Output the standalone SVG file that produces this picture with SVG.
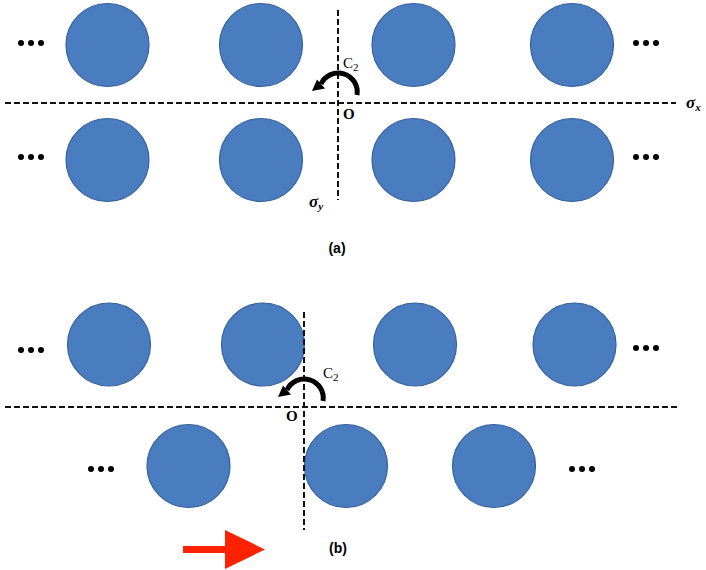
<svg xmlns="http://www.w3.org/2000/svg" width="706" height="570" viewBox="0 0 706 570">
<style>
.atom{fill:#4a7dc0;stroke:#36609a;stroke-width:1.2}
.dash{stroke:#111;stroke-width:2;stroke-dasharray:6 3;fill:none}
.dot{fill:#000}
.rot{fill:none;stroke:#000;stroke-width:5}
.sym{font-family:"Liberation Serif","DejaVu Serif",serif;font-size:15px;fill:#000}
.sig{font-family:"Liberation Serif","DejaVu Serif",serif;font-size:17px;font-style:italic;font-weight:bold;fill:#000}
.lab{font-family:"Liberation Sans","DejaVu Sans",sans-serif;font-size:14px;font-weight:bold;fill:#000}
</style>
<rect width="706" height="570" fill="#fff"/>
<!-- (a) -->
<g id="a-atoms">
<circle class="atom" cx="107.5" cy="45" r="41.5"/>
<circle class="atom" cx="261" cy="45" r="41.5"/>
<circle class="atom" cx="413.5" cy="45" r="41.5"/>
<circle class="atom" cx="572" cy="45" r="41.5"/>
<circle class="atom" cx="107.5" cy="160" r="41.5"/>
<circle class="atom" cx="261" cy="160" r="41.5"/>
<circle class="atom" cx="413.5" cy="160" r="41.5"/>
<circle class="atom" cx="572" cy="160" r="41.5"/>
</g>
<g id="a-dots">
<circle class="dot" cx="21" cy="43" r="3"/><circle class="dot" cx="31" cy="43" r="3"/><circle class="dot" cx="41" cy="43" r="3"/>
<circle class="dot" cx="636" cy="43" r="3"/><circle class="dot" cx="646" cy="43" r="3"/><circle class="dot" cx="656" cy="43" r="3"/>
<circle class="dot" cx="21" cy="157" r="3"/><circle class="dot" cx="31" cy="157" r="3"/><circle class="dot" cx="41" cy="157" r="3"/>
<circle class="dot" cx="636" cy="157" r="3"/><circle class="dot" cx="646" cy="157" r="3"/><circle class="dot" cx="656" cy="157" r="3"/>
</g>
<g id="a-axes">
<line class="dash" x1="5" y1="103" x2="676" y2="103"/>
<line class="dash" x1="338" y1="10" x2="338" y2="200"/>
</g>
<g id="a-c2">
<path class="rot" d="M357 95 A19 19 0 0 0 321 84"/>
<polygon points="325,88.5 317,79.5 312,91" fill="#000"/>
<text class="sym" x="343" y="68">C<tspan font-size="11" dy="3">2</tspan></text>
<text class="sym" x="343" y="119" font-size="12" font-weight="bold">O</text>
<text class="sig" x="686" y="108">σ<tspan font-size="11" dy="3">x</tspan></text>
<text class="sig" x="309" y="207">σ<tspan font-size="11" dy="3">y</tspan></text>
</g>
<text class="lab" x="337" y="253" text-anchor="middle">(a)</text>
<!-- (b) -->
<g id="b-atoms">
<circle class="atom" cx="109" cy="344.5" r="41.5"/>
<circle class="atom" cx="263" cy="344.5" r="41.5"/>
<circle class="atom" cx="415" cy="344.5" r="41.5"/>
<circle class="atom" cx="574.5" cy="344.5" r="41.5"/>
<circle class="atom" cx="188.5" cy="466" r="41.5"/>
<circle class="atom" cx="346" cy="466" r="41.5"/>
<circle class="atom" cx="494" cy="466" r="41.5"/>
</g>
<g id="b-dots">
<circle class="dot" cx="21" cy="350" r="3"/><circle class="dot" cx="31" cy="350" r="3"/><circle class="dot" cx="41" cy="350" r="3"/>
<circle class="dot" cx="636" cy="348" r="3"/><circle class="dot" cx="646" cy="348" r="3"/><circle class="dot" cx="656" cy="348" r="3"/>
<circle class="dot" cx="91" cy="469" r="3"/><circle class="dot" cx="101" cy="469" r="3"/><circle class="dot" cx="111" cy="469" r="3"/>
<circle class="dot" cx="572" cy="469" r="3"/><circle class="dot" cx="582" cy="469" r="3"/><circle class="dot" cx="592" cy="469" r="3"/>
</g>
<g id="b-axes">
<line class="dash" x1="5" y1="407" x2="678" y2="407"/>
<line class="dash" x1="304" y1="312" x2="304" y2="530"/>
</g>
<g id="b-c2">
<path class="rot" d="M323 401 A19 19 0 0 0 287 390"/>
<polygon points="291,394.5 283,385.5 278,397" fill="#000"/>
<text class="sym" x="323" y="378">C<tspan font-size="11" dy="3">2</tspan></text>
<text class="sym" x="286" y="421" font-size="12" font-weight="bold">O</text>
</g>
<text class="lab" x="338" y="553" text-anchor="middle">(b)</text>
<g id="arrow">
<rect x="183" y="546" width="43" height="7" fill="#ff2200"/>
<polygon points="225,530 265,549.5 225,569" fill="#ff2200"/>
</g>
</svg>
